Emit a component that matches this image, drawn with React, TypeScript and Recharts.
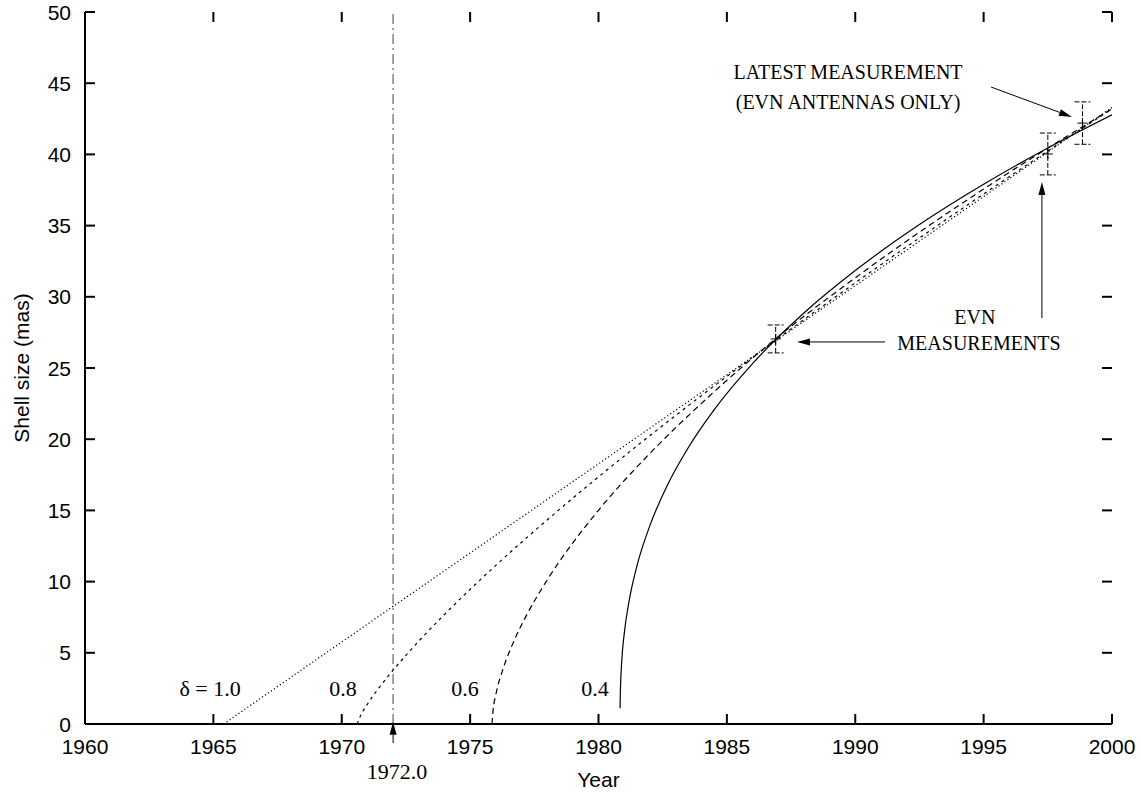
import React from "react";
import {
  ComposedChart, Line, Scatter, ErrorBar, XAxis, YAxis,
  ReferenceLine, ReferenceDot,
} from "recharts";

// curves: shell size vs year for the different deceleration indices
const d10Years = [1965.4, 1970, 1975, 1980, 1985, 1990, 1995, 2000];
const d10Size = [0, 5.76, 12.01, 18.27, 24.53, 30.78, 37.04, 43.3];

const d08Years = [1970.6, 1970.7, 1971, 1971.5, 1972, 1973, 1974, 1976, 1978, 1980, 1983, 1986, 1990, 1995, 2000];
const d08Size = [0, 0.46, 1.39, 2.66, 3.78, 5.82, 7.69, 11.14, 14.33, 17.35, 21.66, 25.76, 30.98, 37.22, 43.2];

const d06Years = [1975.85, 1975.9, 1976, 1976.3, 1976.7, 1977.2, 1978, 1979, 1980, 1982, 1984, 1987, 1990, 1995, 2000];
const d06Size = [0, 1.06, 2.05, 3.96, 5.8, 7.65, 10.11, 12.72, 15.01, 19.0, 22.5, 27.2, 31.33, 37.57, 43.2];

const d04Years = [1980.84, 1980.85, 1980.9, 1981, 1981.2, 1981.5, 1982, 1982.7, 1983.5, 1984.5, 1986, 1988, 1990, 1992.5, 1995, 1997.5, 2000];
const d04Size = [1.1, 2.08, 4.26, 6.31, 8.72, 11.12, 13.93, 16.83, 19.42, 22.06, 25.31, 28.86, 31.84, 35.07, 37.9, 40.45, 42.78];

// EVN measurements
const measYears = [1986.9, 1997.5, 1998.85];
const measSize = [27.04, 40.03, 42.2];
const measErr = [0.98, 1.47, 1.49];

const xTicks = [1960, 1965, 1970, 1975, 1980, 1985, 1990, 1995, 2000];
const yTicks = [0, 5, 10, 15, 20, 25, 30, 35, 40, 45, 50];

// annotation text, anchored in data coordinates
const notes = [
  { text: "LATEST MEASUREMENT", x: 1989.72, y: 45.79, size: 20 },
  { text: "(EVN ANTENNAS ONLY)", x: 1989.72, y: 43.68, size: 20 },
  { text: "EVN", x: 1994.66, y: 28.58, size: 20 },
  { text: "MEASUREMENTS", x: 1994.82, y: 26.76, size: 20 },
  { text: "δ = 1.0", x: 1964.87, y: 2.46, size: 22 },
  { text: "0.8", x: 1970.05, y: 2.46, size: 22 },
  { text: "0.6", x: 1974.8, y: 2.46, size: 22 },
  { text: "0.4", x: 1979.86, y: 2.46, size: 22 },
  { text: "1972.0", x: 1972.15, y: -3.37, size: 22 },
];

const arrows = [
  [{ x: 1995.29, y: 44.73 }, { x: 1998.44, y: 42.63 }],
  [{ x: 1997.27, y: 28.51 }, { x: 1997.27, y: 38.06 }],
  [{ x: 1991.16, y: 26.83 }, { x: 1987.73, y: 26.83 }],
  [{ x: 1972.0, y: -1.33 }, { x: 1972.0, y: 0.16 }],
];

const zip = (xs: number[], ys: number[]) => xs.map((x, i) => ({ x, y: ys[i] }));

const SANS = "'Liberation Sans', Arial, Helvetica, sans-serif";
const SERIF = "'Liberation Serif', 'Times New Roman', serif";
const TICK = 10;
// plot frame in pixels (follows from the chart margins below)
const LEFT = 85, RIGHT = 1112, TOP = 12, BOTTOM = 724;

// inward ticks on bottom + mirrored on top
const BottomTick = (p: any) => {
  const x = p.payload.coordinate;
  return (
    <g>
      <line x1={x} y1={BOTTOM} x2={x} y2={BOTTOM - TICK} stroke="#000" strokeWidth={2} />
      <line x1={x} y1={TOP} x2={x} y2={TOP + TICK} stroke="#000" strokeWidth={2} />
      <text x={x} y={BOTTOM + 30} textAnchor="middle" fontFamily={SANS} fontSize={21} fill="#000">
        {p.payload.value}
      </text>
    </g>
  );
};

// inward ticks on left + mirrored on right
const LeftTick = (p: any) => {
  const y = p.payload.coordinate;
  return (
    <g>
      <line x1={LEFT} y1={y} x2={LEFT + TICK} y2={y} stroke="#000" strokeWidth={2} />
      <line x1={RIGHT} y1={y} x2={RIGHT - TICK} y2={y} stroke="#000" strokeWidth={2} />
      <text x={LEFT - 14} y={y} dy="0.36em" textAnchor="end" fontFamily={SANS} fontSize={21} fill="#000">
        {p.payload.value}
      </text>
    </g>
  );
};

const Arrow = (p: any) => {
  const { x1, y1, x2, y2 } = p;
  const a = Math.atan2(y2 - y1, x2 - x1);
  const L = 13, W = 3.5;
  const bx = x2 - L * Math.cos(a), by = y2 - L * Math.sin(a);
  const pts = `${x2},${y2} ${bx - W * Math.sin(a)},${by + W * Math.cos(a)} ${bx + W * Math.sin(a)},${by - W * Math.cos(a)}`;
  return (
    <g>
      <line x1={x1} y1={y1} x2={bx} y2={by} stroke="#000" strokeWidth={1} />
      <polygon points={pts} fill="#000" />
    </g>
  );
};

const Plus = (p: any) => (
  <g stroke="#000" strokeWidth={1}>
    <line x1={p.cx - 5} y1={p.cy} x2={p.cx + 5} y2={p.cy} />
    <line x1={p.cx} y1={p.cy - 5} x2={p.cx} y2={p.cy + 5} />
  </g>
);

export default function App() {
  const meas = measYears.map((x, i) => ({ x, y: measSize[i], err: measErr[i] }));

  return (
    <div style={{ position: "absolute", left: 0, top: 0, background: "#fff" }}>
      <ComposedChart width={1141} height={792} margin={{ top: 12, right: 29, bottom: 0, left: 0 }}>
        <XAxis
          type="number" dataKey="x" domain={[1960, 2000]} ticks={xTicks} allowDataOverflow
          height={68} tickLine={false} tick={<BottomTick />}
          axisLine={{ stroke: "#000", strokeWidth: 2 }} interval={0}
          label={(p: any) => (
            <text x={p.viewBox.x + p.viewBox.width / 2} y={p.viewBox.y + 63} textAnchor="middle"
              fontFamily={SANS} fontSize={21} fill="#000">Year</text>
          )}
        />
        <XAxis
          xAxisId="top" orientation="top" type="number" domain={[1960, 2000]} ticks={xTicks}
          height={0} tickLine={false} tick={false}
          axisLine={{ stroke: "#000", strokeWidth: 2 }}
        />
        <YAxis
          type="number" domain={[0, 50]} ticks={yTicks} allowDataOverflow width={85}
          tickLine={false} tick={<LeftTick />} interval={0}
          axisLine={{ stroke: "#000", strokeWidth: 2 }}
          label={(p: any) => (
            <text x={21} y={p.viewBox.y + p.viewBox.height / 2} textAnchor="middle" dominantBaseline="central"
              transform={`rotate(-90, 21, ${p.viewBox.y + p.viewBox.height / 2})`}
              fontFamily={SANS} fontSize={21} fill="#000">Shell size (mas)</text>
          )}
        />
        <YAxis
          yAxisId="right" orientation="right" type="number" domain={[0, 50]} ticks={yTicks} width={0}
          tickLine={false} tick={false}
          axisLine={{ stroke: "#000", strokeWidth: 2 }}
        />

        <ReferenceLine x={1972} stroke="#808080" strokeWidth={1.5} strokeDasharray="10 4 2 4" />

        <Line data={zip(d10Years, d10Size)} dataKey="y" type="monotone" stroke="#000" strokeWidth={1.2}
          strokeDasharray="1.2 2.4" dot={false} isAnimationActive={false} />
        <Line data={zip(d08Years, d08Size)} dataKey="y" type="monotone" stroke="#000" strokeWidth={1.2}
          strokeDasharray="3 4" dot={false} isAnimationActive={false} />
        <Line data={zip(d06Years, d06Size)} dataKey="y" type="monotone" stroke="#000" strokeWidth={1.2}
          strokeDasharray="6 4" dot={false} isAnimationActive={false} />
        <Line data={zip(d04Years, d04Size)} dataKey="y" type="monotone" stroke="#000" strokeWidth={1.2}
          dot={false} isAnimationActive={false} />

        <Scatter data={meas} dataKey="y" shape={<Plus />} isAnimationActive={false}>
          <ErrorBar dataKey="err" direction="y" width={8} stroke="#000" strokeWidth={1}
            strokeDasharray="5 2" isAnimationActive={false} />
        </Scatter>

        {arrows.map((seg, i) => (
          <ReferenceLine key={`a${i}`} segment={seg} ifOverflow="visible" shape={<Arrow />} />
        ))}

        {notes.map((n, i) => (
          <ReferenceDot key={`n${i}`} x={n.x} y={n.y} r={0} ifOverflow="visible"
            shape={(p: any) => (
              <text x={p.cx} y={p.cy} textAnchor="middle" dominantBaseline="central"
                fontFamily={SERIF} fontSize={n.size} fill="#000">{n.text}</text>
            )}
          />
        ))}
      </ComposedChart>
    </div>
  );
}
